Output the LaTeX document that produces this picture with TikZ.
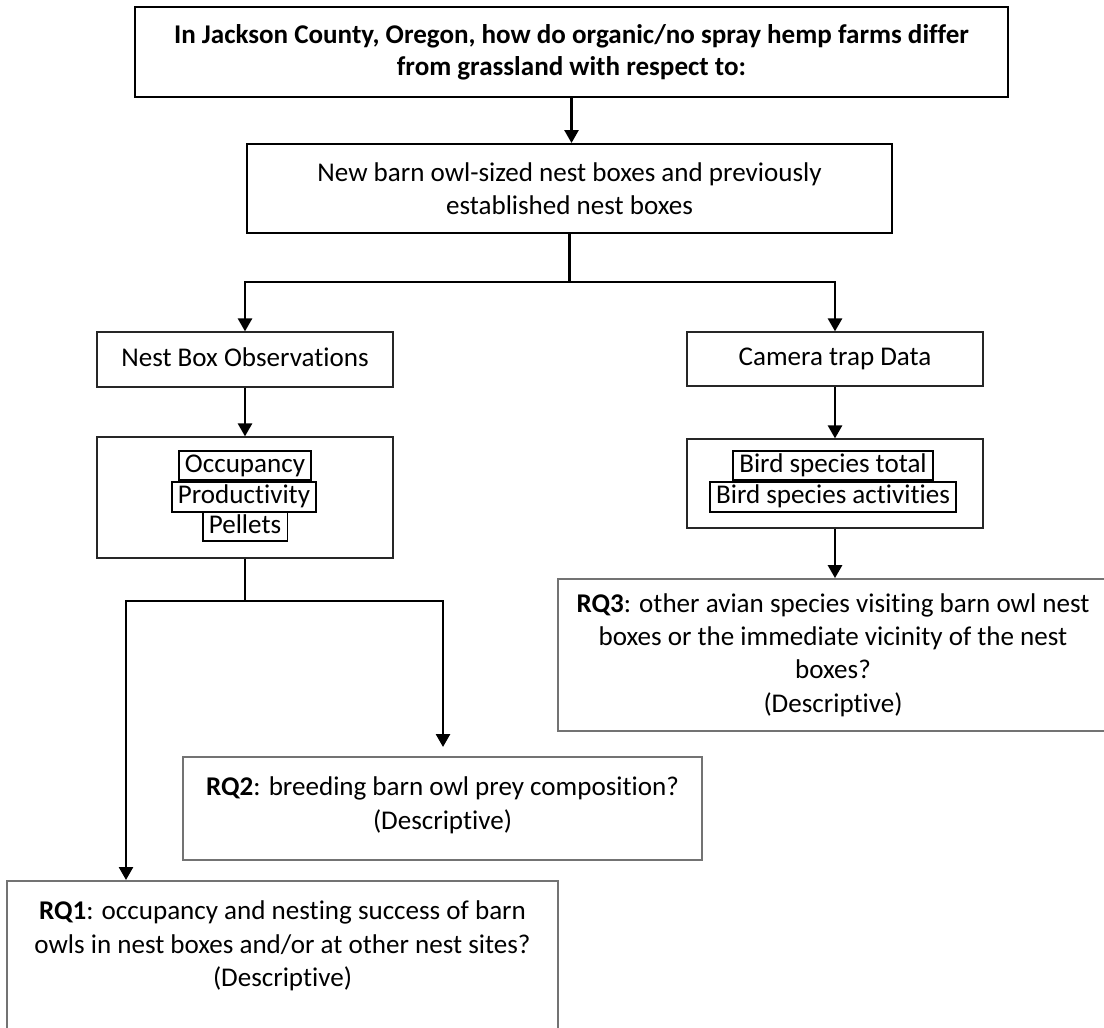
\documentclass[tikz,border=0pt]{standalone}
\usepackage{fontspec}
\setmainfont{Carlito}[Ligatures=NoCommon]
\usetikzlibrary{arrows.meta}

\begin{document}
\begin{tikzpicture}[x=0.02cm, y=-0.02cm,
    every node/.style={font=\fontsize{15.4}{19}\selectfont},
    box/.style={draw=black!85, line width=0.7pt, align=center, inner sep=0pt},
    onerow/.style={text height=11.5pt, text depth=3.8pt},
    tag/.style={draw, line width=1.1pt, inner xsep=3.6pt, inner ysep=0.8pt, onerow},
    rq/.style={draw=black!55, line width=1pt, align=center, inner ysep=0.4cm},
    link/.style={line width=1.5pt},
    arr/.style={line width=1.5pt, -{Triangle[length=0.26cm, width=0.28cm]}}]
    \useasboundingbox (0,0) rectangle (1104,1027);
    \clip (0,0) rectangle (1104,1027);

    % question and nest boxes
    \node[box, draw=black, line width=1.4pt, minimum width=17.46cm, minimum height=1.8cm, font=\fontsize{15.4}{18.3}\selectfont\bfseries] (q) at (571.5,52) {In Jackson County, Oregon, how do organic/no spray hemp farms differ\\from grassland with respect to:};
    \node[box, draw=black, line width=1.1pt, minimum width=12.9cm, minimum height=1.78cm] (boxes) at (569.5,188.5) {New barn owl-sized nest boxes and previously\\established nest boxes};

    % two kinds of data
    \node[box, onerow, minimum width=5.92cm, minimum height=1.1cm] (obs) at (245,359.5) {Nest Box Observations};
    \node[box, onerow, minimum width=5.92cm, minimum height=1.08cm] (cam) at (835,359) {Camera trap Data};

    % measured variables
    \node[box, minimum width=5.92cm, minimum height=2.42cm] (measures) at (245,497.5) {};
    \node[tag] (occ) at (245,465.5) {Occupancy};
    \node[tag] (prod) at (244,497) {Productivity};
    \node[tag] (pell) at (245,526.5) {Pellets};
    \node[box, minimum width=5.92cm, minimum height=1.78cm] (birds) at (835,483.5) {};
    \node[tag] (total) at (833,465.5) {Bird species total};
    \node[tag] (activ) at (833,497) {Bird species activities};

    % research questions
    \node[rq, inner ysep=0.1cm, minimum width=11cm, minimum height=3.04cm] (rq3) at (833,655) {\textbf{RQ3}: other avian species visiting barn owl nest\\boxes or the immediate vicinity of the nest\\boxes?\\(Descriptive)};
    \node[rq, anchor=north, minimum width=10.38cm, text depth=0.22cm] (rq2) at (442.5,756) {\textbf{RQ2}: breeding barn owl prey composition?\\(Descriptive)};
    \node[rq, anchor=north, minimum width=11.02cm, text depth=1.3cm] (rq1) at (282.5,880) {\textbf{RQ1}: occupancy and nesting success of barn\\owls in nest boxes and/or at other nest sites?\\(Descriptive)};

    % connectors
    \coordinate (split1) at (569.5,282);
    \coordinate (l2) at (126,601);
    \coordinate (r2) at (443,601);
    \draw[arr] (q.south) -- (q.south |- boxes.north);
    \draw[link] (boxes.south) -- (split1);
    \draw[arr] (split1) -| (obs.north);
    \draw[arr] (split1) -| (cam.north);
    \draw[arr] (obs) -- (measures);
    \draw[arr] (cam) -- (birds);
    \draw[arr] (birds.south) -- (birds.south |- rq3.north);
    \draw[arr] (measures.south) |- (l2) -- (l2 |- rq1.north);
    \draw[arr, shorten >=0.18cm] (measures.south) |- (r2) -- (r2 |- rq2.north);
\end{tikzpicture}
\end{document}
